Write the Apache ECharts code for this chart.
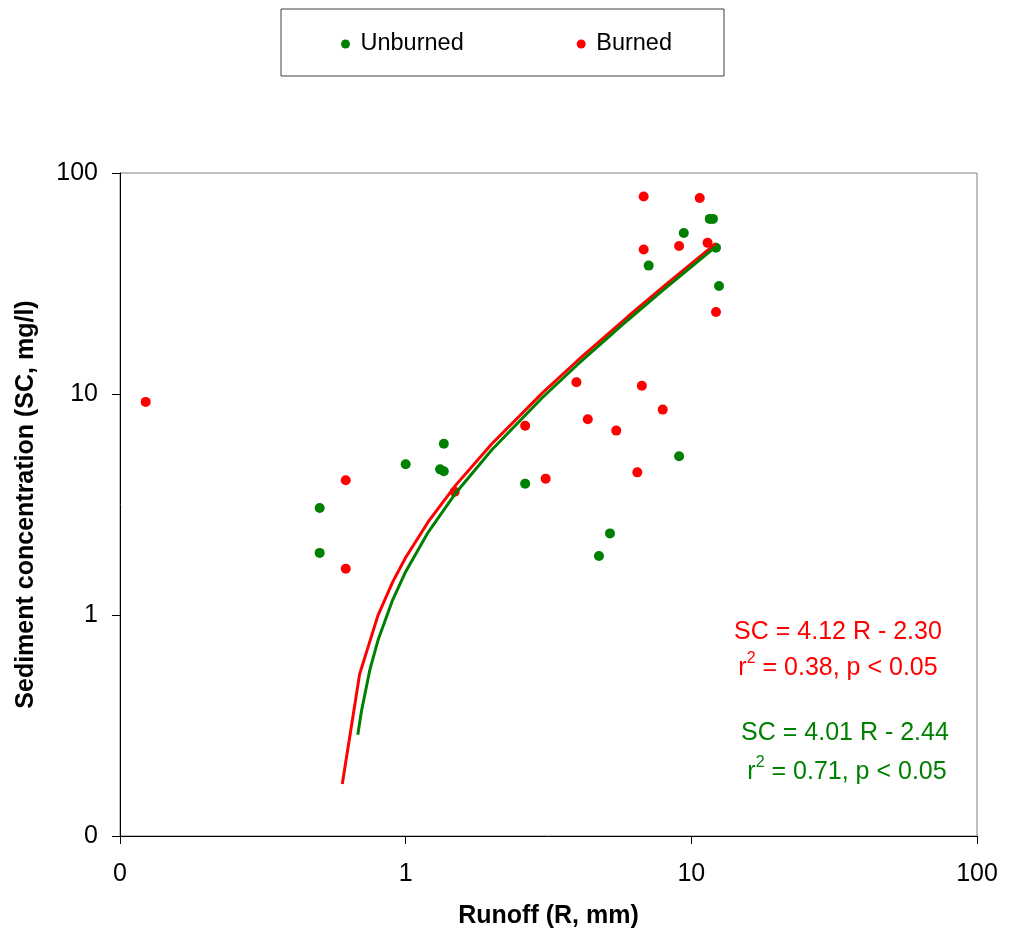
<!DOCTYPE html>
<html>
<head>
<meta charset="utf-8">
<title>Sediment concentration vs runoff</title>
<script src="https://cdn.jsdelivr.net/npm/echarts@6/dist/echarts.min.js"></script>
<style>
  html, body { margin: 0; padding: 0; background: #fff; }
  #chart { width: 1018px; height: 934px; }
</style>
</head>
<body>
<div id="chart"></div>
<script>
const unburnedX = [0.5, 0.5, 1.0, 1.32, 1.36, 1.36, 2.62, 4.75, 5.19, 7.09, 9.06, 9.41, 11.6, 11.9, 12.2, 12.5];
const unburnedY = [3.05, 1.91, 4.81, 4.56, 4.47, 5.96, 3.93, 1.85, 2.34, 38.1, 5.23, 53.5, 62.0, 62.0, 45.9, 30.8];

const burnedX = [0.123, 0.617, 0.617, 1.485, 2.62, 3.09, 3.96, 4.34, 5.46, 6.47, 6.71, 6.81, 6.81, 7.94, 9.06, 10.7, 11.4, 12.2];
const burnedY = [9.21, 4.07, 1.62, 3.61, 7.19, 4.14, 11.3, 7.69, 6.83, 4.42, 10.9, 78.3, 45.1, 8.5, 46.7, 77.1, 48.3, 23.5];

// trend lines as drawn (SC = a R + b)
const burnedFitX = [0.6, 0.69, 0.8, 0.9, 1.0, 1.2, 1.5, 2, 3, 4, 6, 8, 10, 12.2];
const burnedFitY = [0.172, 0.54, 0.996, 1.408, 1.82, 2.644, 3.88, 5.94, 10.06, 14.18, 22.42, 30.66, 38.9, 47.96];
const unburnedFitX = [0.68, 0.7, 0.75, 0.8, 0.9, 1.0, 1.2, 1.5, 2, 3, 4, 6, 8, 10, 12.3];
const unburnedFitY = [0.287, 0.367, 0.568, 0.768, 1.169, 1.57, 2.372, 3.575, 5.58, 9.59, 13.6, 21.62, 29.64, 37.66, 46.88];

const tickValues = [0.1, 1, 10, 100];
const tickLabels = ["0", "1", "10", "100"];

const FONT = "'Liberation Sans', Arial, sans-serif";
const GREEN = "#008000";
const RED = "#ff0000";

function pairs(xs, ys) {
  return xs.map((x, i) => [x, ys[i]]);
}
function tickLabel(v) {
  for (let i = 0; i < tickValues.length; i++) {
    if (Math.abs(Math.log10(v) - Math.log10(tickValues[i])) < 1e-6) return tickLabels[i];
  }
  return "";
}
function statText(x, y, text, color) {
  return {
    type: "text",
    x: x,
    y: y,
    style: {
      text: text,
      fill: color,
      textAlign: "center",
      textVerticalAlign: "middle",
      rich: {
        t: { fontFamily: FONT, fontSize: 25, fill: color, lineHeight: 30, verticalAlign: "bottom" },
        sup: { fontFamily: FONT, fontSize: 16, fill: color, lineHeight: 16, verticalAlign: "top" },
      },
    },
  };
}

const axisCommon = {
  type: "log",
  logBase: 10,
  min: 0.1,
  max: 100,
  nameLocation: "middle",
  nameTextStyle: { fontFamily: FONT, fontSize: 25, fontWeight: "bold", color: "#000" },
  axisLine: { show: true, lineStyle: { color: "#000", width: 1 } },
  axisTick: { show: true, length: 8, inside: false, lineStyle: { color: "#000" } },
  minorTick: { show: false },
  splitLine: { show: false },
  axisLabel: { fontFamily: FONT, fontSize: 25, color: "#000", formatter: tickLabel },
};

let myChart = echarts.init(document.getElementById("chart"), null, { renderer: "canvas" });
myChart.setOption({
  backgroundColor: "#fff",
  animation: false,
  grid: {
    left: 120,
    top: 173,
    width: 857,
    height: 663,
    show: true,
    borderColor: "#808080",
    borderWidth: 1,
    backgroundColor: "transparent",
  },
  legend: {
    data: ["Unburned", "Burned"],
    left: 281,
    top: 9,
    orient: "horizontal",
    padding: [23, 52, 20, 60],
    itemGap: 113,
    itemWidth: 16,
    itemHeight: 9,
    icon: "circle",
    borderColor: "#404040",
    borderWidth: 1,
    textStyle: { fontFamily: FONT, fontSize: 23.5, color: "#000", padding: [0, 0, 0, 2] },
  },
  xAxis: Object.assign({}, axisCommon, {
    name: "Runoff (R, mm)",
    nameGap: 68,
    axisLabel: Object.assign({}, axisCommon.axisLabel, { margin: 26 }),
  }),
  yAxis: Object.assign({}, axisCommon, {
    name: "Sediment concentration (SC, mg/l)",
    nameGap: 81,
    axisLabel: Object.assign({}, axisCommon.axisLabel, { margin: 22 }),
  }),
  series: [
    {
      name: "Unburned",
      type: "scatter",
      symbol: "circle",
      symbolSize: 10,
      itemStyle: { color: GREEN, opacity: 1 },
      data: pairs(unburnedX, unburnedY),
      z: 3,
    },
    {
      name: "Burned",
      type: "scatter",
      symbol: "circle",
      symbolSize: 10,
      itemStyle: { color: RED, opacity: 1 },
      data: pairs(burnedX, burnedY),
      z: 3,
    },
    {
      name: "Burned fit",
      type: "line",
      showSymbol: false,
      smooth: false,
      lineStyle: { color: RED, width: 3 },
      data: pairs(burnedFitX, burnedFitY),
      z: 4,
    },
    {
      name: "Unburned fit",
      type: "line",
      showSymbol: false,
      smooth: false,
      lineStyle: { color: GREEN, width: 3 },
      data: pairs(unburnedFitX, unburnedFitY),
      z: 5,
    },
  ],
  graphic: [
    {
      type: "text",
      x: 838,
      y: 632,
      style: {
        text: "SC = 4.12 R - 2.30",
        fill: RED,
        font: "25px " + FONT,
        textAlign: "center",
        textVerticalAlign: "middle",
      },
    },
    statText(838, 666, "{t|r}{sup|2}{t| = 0.38, p < 0.05}", RED),
    {
      type: "text",
      x: 845,
      y: 733,
      style: {
        text: "SC = 4.01 R - 2.44",
        fill: GREEN,
        font: "25px " + FONT,
        textAlign: "center",
        textVerticalAlign: "middle",
      },
    },
    statText(847, 770, "{t|r}{sup|2}{t| = 0.71, p < 0.05}", GREEN),
  ],
});
</script>
</body>
</html>
